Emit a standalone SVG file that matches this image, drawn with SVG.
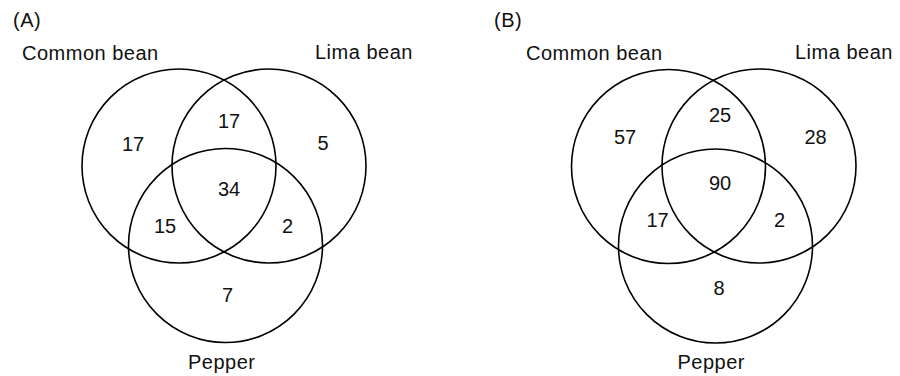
<svg xmlns="http://www.w3.org/2000/svg" width="900" height="376" viewBox="0 0 900 376">
<style>
.c{fill:none;stroke:#000;stroke-width:1.6}
.t{font-family:"Liberation Sans",Arial,sans-serif;font-size:20px;fill:#111;letter-spacing:0.5px}
.n{font-family:"Liberation Sans",Arial,sans-serif;font-size:20px;fill:#111;text-anchor:middle}
</style>
<rect width="900" height="376" fill="#fff"/>
<g id="panelA">
<text class="t" x="13" y="27">(A)</text>
<g id="A-common"><circle class="c" cx="179" cy="166" r="97"/><text class="t" x="22" y="60">Common bean</text></g>
<g id="A-lima"><circle class="c" cx="269" cy="166" r="97"/><text class="t" x="315" y="59">Lima bean</text></g>
<g id="A-pepper"><circle class="c" cx="225.5" cy="245.5" r="97"/><text class="t" x="188" y="369">Pepper</text></g>
<g id="A-counts">
<text class="n" x="133" y="151">17</text>
<text class="n" x="229" y="128">17</text>
<text class="n" x="323" y="150">5</text>
<text class="n" x="229" y="196">34</text>
<text class="n" x="165" y="233">15</text>
<text class="n" x="287.5" y="233">2</text>
<text class="n" x="227.5" y="302">7</text>
</g>
</g>
<g id="panelB">
<text class="t" x="494" y="27">(B)</text>
<g id="B-common"><circle class="c" cx="668.5" cy="166.5" r="97"/><text class="t" x="526" y="60">Common bean</text></g>
<g id="B-lima"><circle class="c" cx="759" cy="166" r="97"/><text class="t" x="795" y="59">Lima bean</text></g>
<g id="B-pepper"><circle class="c" cx="715.5" cy="246" r="97"/><text class="t" x="677.5" y="369">Pepper</text></g>
<g id="B-counts">
<text class="n" x="625" y="143.5">57</text>
<text class="n" x="720" y="122">25</text>
<text class="n" x="815.5" y="143.5">28</text>
<text class="n" x="720" y="189.5">90</text>
<text class="n" x="657.5" y="227">17</text>
<text class="n" x="779.5" y="227">2</text>
<text class="n" x="719" y="295">8</text>
</g>
</g>
</svg>
